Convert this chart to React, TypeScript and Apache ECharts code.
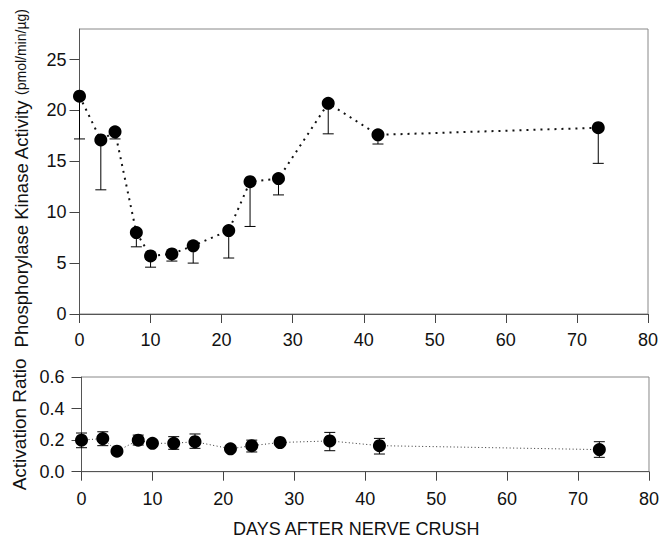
import React, { useEffect, useRef } from "react";
import * as echarts from "echarts";

const days = [0, 3, 5, 8, 10, 13, 16, 21, 24, 28, 35, 42, 73];
const activity = [21.4, 17.1, 17.9, 8.0, 5.7, 5.9, 6.7, 8.2, 13.0, 13.3, 20.7, 17.6, 18.3];
const activityLow = [17.2, 12.2, 17.2, 6.6, 4.6, 5.2, 5.0, 5.5, 8.6, 11.7, 17.7, 16.7, 14.8];
const ratio = [0.2, 0.21, 0.13, 0.2, 0.18, 0.18, 0.19, 0.145, 0.165, 0.185, 0.195, 0.165, 0.14];
const ratioLow: (number | null)[] = [0.152, 0.165, null, 0.169, null, 0.142, 0.148, null, 0.125, null, 0.133, 0.112, 0.091];
const ratioHigh: (number | null)[] = [0.245, 0.253, null, 0.232, null, 0.222, 0.239, null, 0.2, null, 0.249, 0.211, 0.19];
const xTicks = [0, 10, 20, 30, 40, 50, 60, 70, 80];
const activityTicks = [0, 5, 10, 15, 20, 25];
const ratioTicks = [0, 0.2, 0.4, 0.6];

const FONT = "Liberation Sans, Arial, Helvetica, sans-serif";

export default function App() {
  const ref = useRef<HTMLDivElement>(null);
  useEffect(() => {
    if (!ref.current) return;
    const chart = echarts.init(ref.current, null, { renderer: "svg" });
    const axisLine = { show: true, lineStyle: { color: "#555", width: 1 } };
    const label = { color: "#111", fontSize: 18, fontFamily: FONT };
    const capHalf = 5.5;
    const errStyle = { stroke: "#000", lineWidth: 1 };

    const topErr = days.map((d, i) => [d, activityLow[i], activity[i]]);
    const botErr = days
      .map((d, i) => [d, ratioLow[i], ratioHigh[i]])
      .filter((r) => r[1] !== null && r[2] !== null);

    chart.setOption({
      animation: false,
      backgroundColor: "#fff",
      textStyle: { fontFamily: FONT },
      grid: [
        { left: 79.5, right: 14, top: 29, height: 285, show: true, borderColor: "#888", borderWidth: 1, backgroundColor: "transparent" },
        { left: 81.5, right: 12, top: 377, height: 94.7, show: true, borderColor: "#888", borderWidth: 1, backgroundColor: "transparent" },
      ],
      xAxis: [
        {
          type: "value", gridIndex: 0, min: 0, max: 80, interval: 10,
          axisLine, splitLine: { show: false },
          axisTick: { show: true, length: 9, lineStyle: { color: "#444" }, customValues: xTicks },
          axisLabel: { ...label, margin: 17, customValues: xTicks },
        },
        {
          type: "value", gridIndex: 1, min: 0, max: 80, interval: 10,
          axisLine, splitLine: { show: false },
          axisTick: { show: true, length: 9, lineStyle: { color: "#444" }, customValues: xTicks },
          axisLabel: { ...label, margin: 18, customValues: xTicks },
          name: "DAYS AFTER NERVE CRUSH", nameLocation: "middle", nameGap: 48,
          nameTextStyle: { color: "#111", fontSize: 18, fontFamily: FONT, padding: [0, 18, 0, 0] },
        },
      ],
      yAxis: [
        {
          type: "value", gridIndex: 0, min: 0, max: 28, interval: 5,
          axisLine, splitLine: { show: false },
          axisTick: { show: true, length: 10, lineStyle: { color: "#444" }, customValues: activityTicks },
          axisLabel: { ...label, margin: 13, customValues: activityTicks },
          name: "{a|Phosphorylase Kinase Activity }{b|(pmol/min/µg)}",
          nameLocation: "middle", nameGap: 49,
          nameTextStyle: {
            padding: [0, 14, 0, 0],
            rich: {
              a: { fontSize: 18.5, fontFamily: FONT, color: "#111" },
              b: { fontSize: 14, fontFamily: FONT, color: "#111" },
            },
          },
        },
        {
          type: "value", gridIndex: 1, min: 0, max: 0.6, interval: 0.2,
          axisLine, splitLine: { show: false },
          axisTick: { show: true, length: 10, lineStyle: { color: "#444" }, customValues: ratioTicks },
          axisLabel: { ...label, margin: 17, customValues: ratioTicks, formatter: (v: number) => v.toFixed(1) },
          name: "Activation Ratio", nameLocation: "middle", nameGap: 50,
          nameTextStyle: { color: "#111", fontSize: 19, fontFamily: FONT },
        },
      ],
      series: [
        {
          type: "custom", xAxisIndex: 0, yAxisIndex: 0, z: 1,
          data: topErr,
          renderItem: (params: any, api: any) => {
            const x = api.value(0);
            const lo = api.coord([x, api.value(1)]);
            const mid = api.coord([x, api.value(2)]);
            return {
              type: "group",
              children: [
                { type: "line", shape: { x1: lo[0], y1: lo[1], x2: mid[0], y2: mid[1] }, style: errStyle },
                { type: "line", shape: { x1: lo[0] - capHalf, y1: lo[1], x2: lo[0] + capHalf, y2: lo[1] }, style: errStyle },
              ],
            };
          },
        },
        {
          type: "line", xAxisIndex: 0, yAxisIndex: 0, z: 3,
          data: days.map((d, i) => [d, activity[i]]),
          symbol: "circle", symbolSize: 13,
          itemStyle: { color: "#000" },
          lineStyle: { color: "#111", width: 2, type: [2, 5] },
        },
        {
          type: "custom", xAxisIndex: 1, yAxisIndex: 1, z: 1,
          data: botErr,
          renderItem: (params: any, api: any) => {
            const x = api.value(0);
            const lo = api.coord([x, api.value(1)]);
            const hi = api.coord([x, api.value(2)]);
            return {
              type: "group",
              children: [
                { type: "line", shape: { x1: lo[0], y1: lo[1], x2: hi[0], y2: hi[1] }, style: errStyle },
                { type: "line", shape: { x1: lo[0] - capHalf, y1: lo[1], x2: lo[0] + capHalf, y2: lo[1] }, style: errStyle },
                { type: "line", shape: { x1: hi[0] - capHalf, y1: hi[1], x2: hi[0] + capHalf, y2: hi[1] }, style: errStyle },
              ],
            };
          },
        },
        {
          type: "line", xAxisIndex: 1, yAxisIndex: 1, z: 3,
          data: days.map((d, i) => [d, ratio[i]]),
          symbol: "circle", symbolSize: 13,
          itemStyle: { color: "#000" },
          lineStyle: { color: "#333", width: 1, type: [1, 2.5] },
        },
      ],
    });
    return () => chart.dispose();
  }, []);
  return <div ref={ref} style={{ position: "fixed", left: 0, top: 0, width: 662, height: 542 }} />;
}
